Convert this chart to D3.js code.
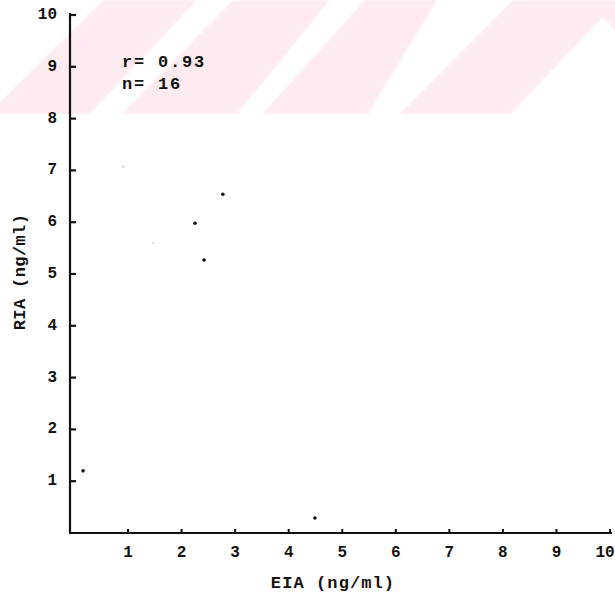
<!DOCTYPE html>
<html>
<head>
<meta charset="utf-8">
<script src="https://cdn.jsdelivr.net/npm/d3@7"></script>
<style>
  html, body { margin: 0; padding: 0; background: #fff; }
  svg { display: block; }
  text { font-family: "Liberation Mono", "DejaVu Sans Mono", monospace; fill: #111; }
</style>
</head>
<body>
<svg id="chart" width="615" height="598"></svg>
<script>
// ---- data ----
const xTicks = [1, 2, 3, 4, 5, 6, 7, 8, 9, 10];
const yTicks = [1, 2, 3, 4, 5, 6, 7, 8, 9, 10];
const eiaValues = [2.77, 2.25, 2.42, 0.16, 4.49];
const riaValues = [6.54, 5.98, 5.27, 1.20, 0.29];
const faintEia = [0.91, 1.47];
const faintRia = [7.07, 5.60];
const statLines = ["r= 0.93", "n= 16"];
const xTitle = "EIA (ng/ml)";
const yTitle = "RIA (ng/ml)";

// ---- layout ----
const svg = d3.select("#chart");
const axisX = 70;      // y-axis line position
const x = d3.scaleLinear().domain([0, 10]).range([74.5, 610]);
const y = d3.scaleLinear().domain([0, 10]).range([533, 15]);

// ---- watermark band (pale pink diagonal stripes, scan artefact) ----
const defs = svg.append("defs");
defs.append("filter").attr("id", "soft")
  .append("feGaussianBlur").attr("stdDeviation", 1.3);
const bandPolys = [
  [[103,0],[197,0],[90,114],[-12,114]],
  [[233,0],[330,0],[237,114],[122,114]],
  [[365,0],[437,0],[368,114],[262,114]],
  [[513,0],[620,0],[620,36],[603,17],[510,114],[400,114]]
];
svg.append("g").attr("filter", "url(#soft)")
  .selectAll("path").data(bandPolys).join("path")
  .attr("d", p => "M" + p.map(q => q.join(",")).join("L") + "Z")
  .attr("fill", "#fdebef");

// ---- axes ----
const g = svg.append("g");
const axisStroke = "#111";

g.append("line")
  .attr("x1", axisX).attr("x2", axisX)
  .attr("y1", y(10) - 2).attr("y2", y(0))
  .attr("stroke", axisStroke).attr("stroke-width", 2.2);
g.append("line")
  .attr("x1", axisX - 1).attr("x2", x(10) + 2)
  .attr("y1", y(0)).attr("y2", y(0))
  .attr("stroke", axisStroke).attr("stroke-width", 2.2);

g.selectAll(".yt").data(yTicks).join("line")
  .attr("x1", axisX).attr("x2", axisX + 6)
  .attr("y1", d => y(d)).attr("y2", d => y(d))
  .attr("stroke", axisStroke).attr("stroke-width", 2.2);
g.selectAll(".yl").data(yTicks).join("text")
  .attr("x", 57).attr("y", d => y(d))
  .attr("text-anchor", "end").attr("dominant-baseline", "central")
  .attr("font-size", 16).attr("font-weight", "bold")
  .text(d => d);

g.selectAll(".xt").data(xTicks).join("line")
  .attr("x1", d => x(d)).attr("x2", d => x(d))
  .attr("y1", y(0)).attr("y2", y(0) - 4)
  .attr("stroke", axisStroke).attr("stroke-width", 2);
g.selectAll(".xl").data(xTicks).join("text")
  .attr("x", d => Math.min(x(d), 605)).attr("y", 553)
  .attr("text-anchor", "middle").attr("dominant-baseline", "central")
  .attr("font-size", 16).attr("font-weight", "bold")
  .text(d => d);

g.append("text")
  .attr("x", 333).attr("y", 583)
  .attr("text-anchor", "middle").attr("dominant-baseline", "central")
  .attr("font-size", 17).attr("font-weight", "bold")
  .attr("letter-spacing", 1.1)
  .text(xTitle);
g.append("text")
  .attr("transform", "translate(20,272) rotate(-90)")
  .attr("text-anchor", "middle").attr("dominant-baseline", "central")
  .attr("font-size", 17).attr("font-weight", "bold")
  .attr("letter-spacing", 0.4)
  .text(yTitle);

g.selectAll(".st").data(statLines).join("text")
  .attr("x", 122).attr("y", (d, i) => 62 + i * 22)
  .attr("dominant-baseline", "central")
  .attr("font-size", 17).attr("font-weight", "bold")
  .attr("letter-spacing", 1.8)
  .text(d => d);

// ---- points ----
const pts = eiaValues.map((v, i) => ({ x: v, y: riaValues[i] }));
svg.append("g").selectAll("circle").data(pts).join("circle")
  .attr("cx", d => x(d.x)).attr("cy", d => y(d.y))
  .attr("r", 1.8).attr("fill", "#111");

const faint = faintEia.map((v, i) => ({ x: v, y: faintRia[i] }));
svg.append("g").selectAll("circle").data(faint).join("circle")
  .attr("cx", d => x(d.x)).attr("cy", d => y(d.y))
  .attr("r", 0.7).attr("fill", "#999");
</script>
</body>
</html>
